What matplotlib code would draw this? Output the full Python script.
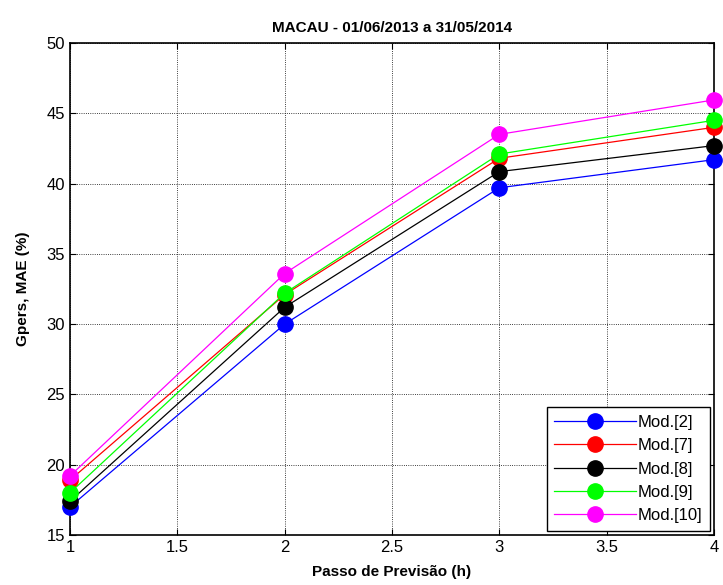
import matplotlib.pyplot as plt

plt.rcParams['font.family'] = ['Liberation Sans', 'DejaVu Sans']

passo = [1, 2, 3, 4]
mod2 = [17.0, 30.0, 39.7, 41.7]
mod7 = [18.9, 32.1, 41.8, 44.0]
mod8 = [17.4, 31.2, 40.85, 42.7]
mod9 = [18.0, 32.2, 42.1, 44.5]
mod10 = [19.2, 33.6, 43.5, 45.95]

series = [
    ('Mod.[2]', mod2, '#0000ff'),
    ('Mod.[7]', mod7, '#ff0000'),
    ('Mod.[8]', mod8, '#000000'),
    ('Mod.[9]', mod9, '#00ff00'),
    ('Mod.[10]', mod10, '#ff00ff'),
]

fig = plt.figure(figsize=(7.23, 5.85), dpi=100)
ax = fig.add_axes([0.0968, 0.0855, 0.8907, 0.841])

for label, vals, color in series:
    ax.plot(passo, vals, '-o', color=color, lw=0.9, markersize=11,
            markeredgecolor=color, label=label, clip_on=False, zorder=3)

ax.set_xlim(1, 4)
ax.set_ylim(15, 50)
ax.set_xticks([1, 1.5, 2, 2.5, 3, 3.5, 4])
ax.set_xticklabels(['1', '1.5', '2', '2.5', '3', '3.5', '4'])
ax.set_yticks(range(15, 51, 5))
ax.tick_params(direction='in', length=4, labelsize=12, top=True, right=True, width=0.8)
ax.grid(True, color='black', linestyle=':', linewidth=0.6)
for s in ax.spines.values():
    s.set_linewidth(1.2)

ax.set_title('MACAU - 01/06/2013 a 31/05/2014', fontsize=11, fontweight='bold', pad=8)
ax.set_xlabel('Passo de Previsão (h)', fontsize=11, fontweight='bold', labelpad=7)
ax.set_ylabel('Gpers, MAE (%)', fontsize=11, fontweight='bold', labelpad=12)

leg = ax.legend(loc='lower right', fontsize=12, fancybox=False, framealpha=1,
                edgecolor='black', borderaxespad=0.25, handlelength=4.9,
                labelspacing=0.5, handletextpad=0.1, borderpad=0.45)
leg.get_frame().set_linewidth(1.0)

fig.savefig('out.png', dpi=100)
